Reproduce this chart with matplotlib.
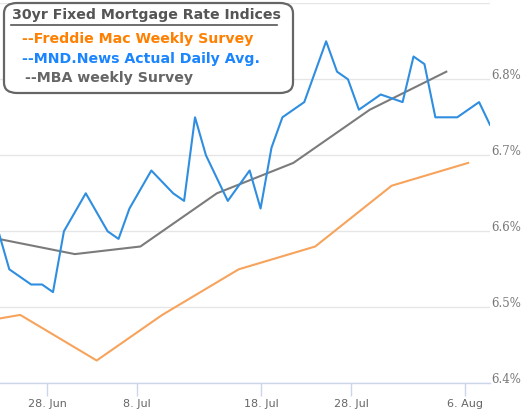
import matplotlib
matplotlib.use("Agg")
import matplotlib.pyplot as plt
from matplotlib.patches import FancyBboxPatch
from matplotlib.lines import Line2D

# x positions are point slots on the (ordinal) date axis
mnd_x = [0, 1, 3, 4, 5, 6, 8, 10, 11, 12, 14, 16, 17, 18, 19, 21, 23, 24, 25,
         26, 28, 30, 31, 32, 33, 35, 37, 38, 39, 40, 42, 44, 45]
mnd_rate = [6.60, 6.55, 6.53, 6.53, 6.52, 6.60, 6.65, 6.60, 6.59, 6.63, 6.68,
            6.65, 6.64, 6.75, 6.70, 6.64, 6.68, 6.63, 6.71, 6.75, 6.77, 6.85,
            6.81, 6.80, 6.76, 6.78, 6.77, 6.83, 6.82, 6.75, 6.75, 6.77, 6.74]

mba_x = [0, 7, 13, 20, 27, 34, 41]
mba_rate = [6.59, 6.57, 6.58, 6.65, 6.69, 6.76, 6.81]

freddie_x = [0, 2, 9, 15, 22, 29, 36, 43]
freddie_rate = [6.485, 6.49, 6.43, 6.49, 6.55, 6.58, 6.66, 6.69]

tick_pos = [4.45, 12.68, 24.03, 32.29, 42.67]
tick_labels = ['28. Jun', '8. Jul', '18. Jul', '28. Jul', '6. Aug']
y_ticks = [6.4, 6.5, 6.6, 6.7, 6.8, 6.9]

W, H = 525, 413
fig = plt.figure(figsize=(W / 100, H / 100), dpi=100)


def fx(x):
    return x / W


def fy(y):
    return 1 - y / H


ax = fig.add_axes([0, fy(383.3), fx(490), fy(3.3) - fy(383.3)])

ax.plot(freddie_x, freddie_rate, color='#f7a35c', lw=1.5, solid_joinstyle='round')
ax.plot(mba_x, mba_rate, color='#7b7b7b', lw=1.5, solid_joinstyle='round')
ax.plot(mnd_x, mnd_rate, color='#2f8ee0', lw=1.5, solid_joinstyle='round')

ax.set_xlim(0.15, 45)
ax.set_ylim(6.4, 6.9)

ax.set_yticks(y_ticks)
ax.set_yticklabels(['6.4%', '6.5%', '6.6%', '6.7%', '6.8%', ''])
ax.yaxis.tick_right()
ax.tick_params(axis='y', length=0, pad=1, labelsize=8.5, labelcolor='#777777')
for lab in ax.get_yticklabels():
    lab.set_family('DejaVu Serif')
    lab.set_va('baseline')
ax.grid(axis='y', color='#e6e6e6', lw=1)
ax.set_axisbelow(True)

ax.set_xticks(tick_pos)
ax.set_xticklabels(tick_labels)
ax.tick_params(axis='x', length=9, width=1, color='#ccd6eb', pad=2,
               labelsize=8, labelcolor='#666666')

for side in ['top', 'left', 'right']:
    ax.spines[side].set_visible(False)
ax.spines['bottom'].set_color('#ccd6eb')
ax.spines['bottom'].set_linewidth(1)

# legend box drawn by hand
box = FancyBboxPatch((fx(4), fy(93)), fx(289), fy(3) - fy(93),
                     boxstyle='round,pad=0,rounding_size=0.025',
                     transform=fig.transFigure, facecolor='white',
                     edgecolor='#666666', lw=1.6, zorder=5)
fig.add_artist(box)

fs = 10.2
fig.text(fx(146), fy(15), '30yr Fixed Mortgage Rate Indices', ha='center', va='center',
         fontsize=fs, fontweight='bold', color='#555555', zorder=6)
fig.add_artist(Line2D([fx(11), fx(277)], [fy(25), fy(25)], color='#555555', lw=1.2,
                      transform=fig.transFigure, zorder=6))
fig.text(fx(22), fy(39), '--Freddie Mac Weekly Survey', ha='left', va='center',
         fontsize=fs, fontweight='bold', color='#ff8000', zorder=6)
fig.text(fx(22), fy(59), '--MND.News Actual Daily Avg.', ha='left', va='center',
         fontsize=fs, fontweight='bold', color='#1a85ff', zorder=6)
fig.text(fx(25), fy(78), '--MBA weekly Survey', ha='left', va='center',
         fontsize=fs, fontweight='bold', color='#666666', zorder=6)

fig.savefig('out.png', dpi=100)
